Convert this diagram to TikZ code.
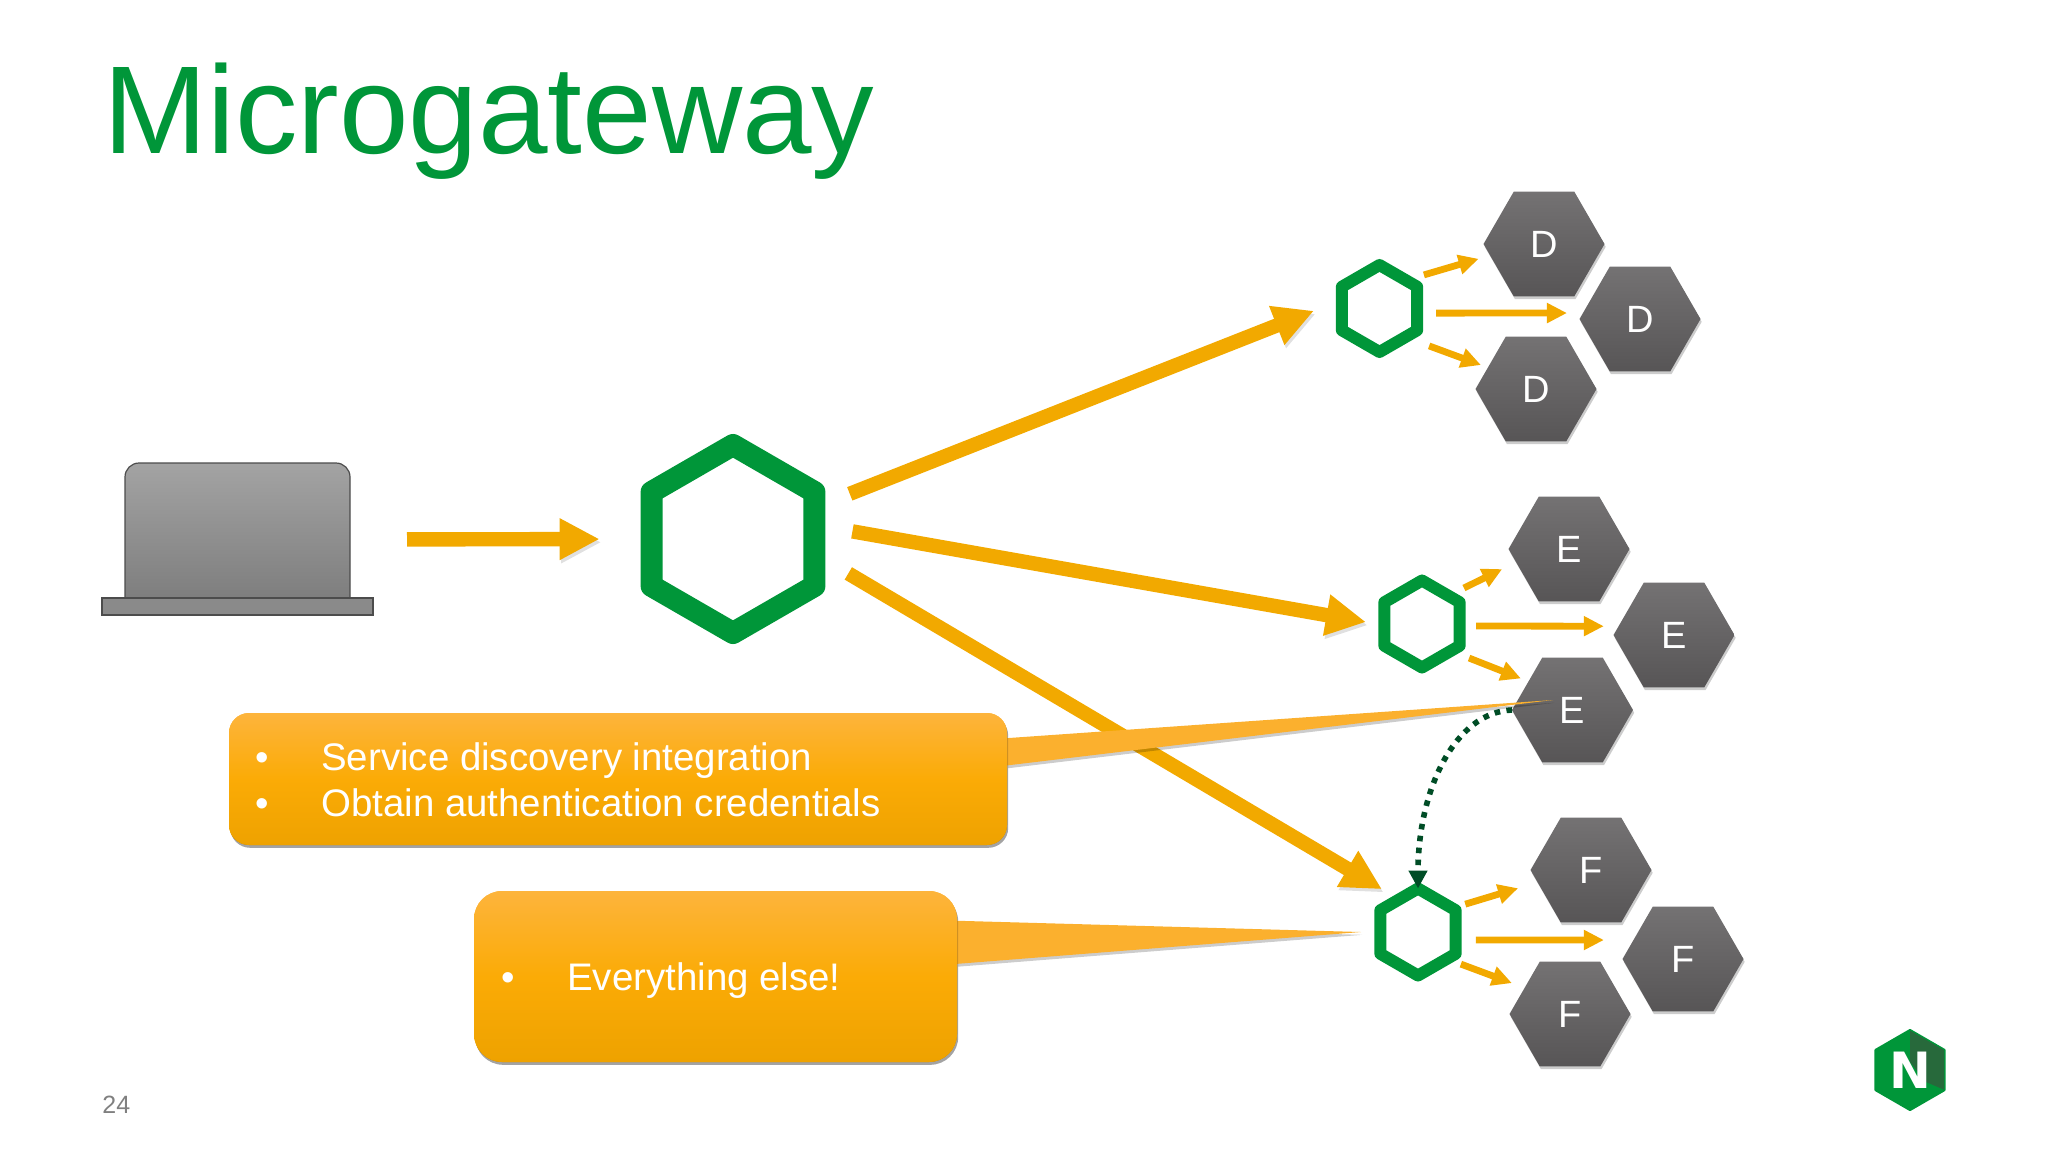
\documentclass[tikz,border=0pt]{standalone}
\usepackage{fontspec}
\setmainfont{Liberation Sans}
\newfontfamily\logofont{DejaVu Sans}
\usetikzlibrary{arrows.meta,shapes.geometric,shadows}
\definecolor{gwgreen}{HTML}{009639}
\definecolor{logodark}{HTML}{27693B}
\definecolor{ptrorange}{HTML}{F2A900}
\definecolor{tailorange}{HTML}{FBB02E}
\definecolor{dotgreen}{HTML}{004D26}

\begin{document}
\begin{tikzpicture}[x=0.5pt,y=-0.5pt]
        \tikzset{softshadow/.style={drop shadow={shadow xshift=.6pt,shadow yshift=-1.4pt,opacity=.2,fill=black}}}
        \tikzset{myptr/.style={draw=ptrorange,line width=7.2pt,-{Triangle[length=20pt,width=19.5pt]},
            preaction={draw=black,opacity=.12,transform canvas={xshift=.8pt,yshift=-1.6pt}}}}
        \tikzset{myptrsmall/.style={draw=ptrorange,line width=3.4pt,-{Triangle[length=10pt,width=9.5pt]}}}
        \tikzset{gwhex/.style={regular polygon,regular polygon sides=6,regular polygon rotate=30,draw=gwgreen,line join=round,inner sep=0pt,outer sep=0pt}}
        \tikzset{podhex/.style={regular polygon,regular polygon sides=6,minimum size=60.5pt,
            inner sep=0pt,outer sep=0pt,top color=podtop,bottom color=podbottom,softshadow,text=white,font=\fontsize{19}{23}\selectfont}}
        \tikzset{callbox/.style={rectangle,inner sep=0pt,outer sep=0pt,top color=calltop,bottom color=callbottom,middle color=callmid,softshadow}}
        \tikzset{calltail/.style={fill=tailorange,softshadow}}
        \tikzset{calltext/.style={anchor=base west,inner sep=0pt,text=white,font=\fontsize{19.2}{23}\selectfont}}
        \definecolor{podtop}{HTML}{747273}
        \definecolor{podbottom}{HTML}{575556}
        \definecolor{calltop}{HTML}{FDB43C}
        \definecolor{callmid}{HTML}{FBAB06}
        \definecolor{callbottom}{HTML}{EEA200}
        \useasboundingbox (0,0) rectangle (2048,1152);
        \node (title) at (103,153) [anchor=base west,inner sep=0pt,text=gwgreen,font=\fontsize{62.5}{70}\selectfont] {Microgateway};
        \node (page) at (102,1113) [anchor=base west,inner sep=0pt,text=black!50,font=\fontsize{12.5}{15}\selectfont] {24};

        \node (screen) at (237.5,537.5) [draw=black!70,line width=.6pt,rounded corners=7pt,inner sep=0pt,outer sep=0pt,
            minimum width=112.5pt,minimum height=74.5pt,top color=black!36,bottom color=black!52] {};
        \node (base) at (237.5,606.5) [draw=black!70,line width=.6pt,inner sep=0pt,outer sep=0pt,
            minimum width=135.5pt,minimum height=8.5pt,fill=black!46] {};

        \node (gwmain) at (733,539) [gwhex,line width=11pt,minimum size=94pt] {};
        \node (gwd) at (1379.5,308.5) [gwhex,line width=6pt,minimum size=43.5pt] {};
        \node (gwe) at (1422,624) [gwhex,line width=6pt,minimum size=43.5pt] {};
        \node (gwf) at (1418,932) [gwhex,line width=6pt,minimum size=43.5pt] {};

        \node (hexda) at (1544,244) [podhex] {D};
        \node (hexdb) at (1640,319) [podhex] {D};
        \node (hexdc) at (1536,389) [podhex] {D};
        \node (hexea) at (1569,549) [podhex] {E};
        \node (hexeb) at (1674,635) [podhex] {E};
        \node (hexec) at (1572.5,710) [podhex] {E};
        \node (hexfa) at (1591,870) [podhex] {F};
        \node (hexfb) at (1683,959) [podhex] {F};
        \node (hexfc) at (1570,1014) [podhex] {F};

        \draw [myptr,shorten <=28.5pt,shorten >=26pt] (screen.-1) -- (gwmain.180);
        \draw [myptr,shorten <=19pt,shorten >=15pt] (gwmain.21) -- (gwd.167);
        \draw [myptr,shorten <=19.3pt,shorten >=9.3pt] (gwmain.10) -- (gwe.182);
        \draw [myptr,shorten <=19.7pt,shorten >=10pt] (gwmain.-10) -- (gwf.120);

        \draw [myptrsmall,shorten <=9.4pt,shorten >=6pt] (gwd.47) -- (hexda.192);
        \draw [myptrsmall,shorten <=9.4pt,shorten >=8pt] (gwd.-7) -- (hexdb.174);
        \draw [myptrsmall,shorten <=12.7pt,shorten >=3.7pt] (gwd.-48) -- (hexdc.156);
        \draw [myptrsmall,shorten <=8.7pt,shorten >=7.8pt] (gwe.47) -- (hexea.194);
        \draw [myptrsmall,shorten <=8.2pt,shorten >=7.4pt] (gwe.-3) -- (hexeb.171);
        \draw [myptrsmall,shorten <=9.8pt,shorten >=4.1pt] (gwe.-43) -- (hexec.147);
        \draw [myptrsmall,shorten <=6.9pt,shorten >=10.2pt] (gwf.35) -- (hexfa.193);
        \draw [myptrsmall,shorten <=10.1pt,shorten >=14.8pt] (gwf.-12) -- (hexfb.159);
        \draw [myptrsmall,shorten <=7.5pt,shorten >=6.8pt] (gwf.-43) -- (hexfc.150);

        \draw [draw=dotgreen,line width=2.8pt,dash pattern=on 2.8pt off 3.2pt,-{Triangle[length=9pt,width=9pt,fill=dotgreen]}]
            (hexec.west) .. controls (1455,712) and (1418,790) .. (gwf.north);

        \coordinate (tipa) at (1553,700);
        \coordinate (tipb) at (1361,932);
        \node (calla) at (618,779) [callbox,rounded corners=10pt,minimum width=389pt,minimum height=66pt] {};
        \fill [calltail] (calla.6) -- (tipa) -- (calla.2) -- cycle;
        \node (callarect) at (618,779) [callbox,rounded corners=10pt,minimum width=389pt,minimum height=66pt] {};
        \node (callb) at (715.5,976.5) [callbox,rounded corners=14pt,minimum width=241.5pt,minimum height=85.5pt] {};
        \fill [calltail] (callb.13) -- (tipb) -- (callb.3) -- cycle;
        \node (callbrect) at (715.5,976.5) [callbox,rounded corners=14pt,minimum width=241.5pt,minimum height=85.5pt] {};

        \node (linea) at (255,770) [calltext] {\makebox[33pt][l]{•}Service discovery integration};
        \node (lineb) at (255,816) [calltext] {\makebox[33pt][l]{•}Obtain authentication credentials};
        \node (linec) at (501,990) [calltext] {\makebox[33pt][l]{•}Everything else!};

        \node (logo) at (1910,1070) [regular polygon,regular polygon sides=6,regular polygon rotate=30,minimum size=39.5pt,inner sep=0pt,outer sep=0pt,
            fill=gwgreen,draw=gwgreen,line width=1.5pt,line join=round] {};
        \fill [logodark] (logo.90) -- (logo.30) -- (logo.-30) -- (1926,1082) -- (1910,1062) -- cycle;
        \node (logon) at (1910,1070) [inner sep=0pt,text=white,font=\logofont\bfseries\fontsize{25}{25}\selectfont] {N};
\end{tikzpicture}
\end{document}
